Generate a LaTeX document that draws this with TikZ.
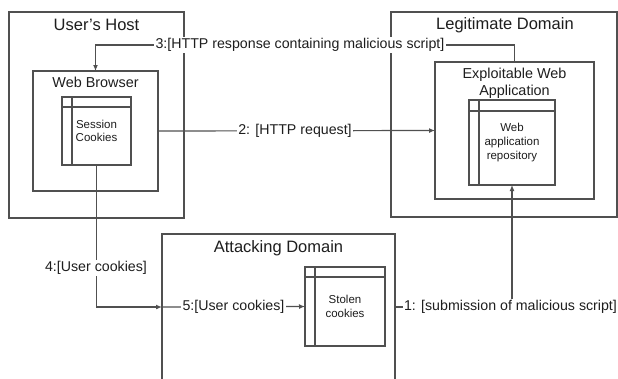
\documentclass[tikz,border=0pt]{standalone}
\usepackage{fontspec}
\setmainfont{Liberation Sans}
\usetikzlibrary{arrows.meta,calc}
\definecolor{lc}{RGB}{80,80,80}
\definecolor{tc}{RGB}{30,30,30}
\begin{document}
\begin{tikzpicture}[x=1pt,y=-1pt,
  line width=1.2pt,
  frame/.style={draw=lc, rectangle, inner sep=0pt, outer sep=0pt},
  bigtitle/.style={text=tc, font=\fontsize{16.5}{20}\selectfont, inner sep=0pt},
  midtitle/.style={text=tc, font=\fontsize{14.4}{17}\selectfont, inner sep=0pt, align=center},
  smalltext/.style={text=tc, font=\fontsize{11.5}{13.6}\selectfont, align=center},
  conn/.style={draw=lc, line width=1.2pt},
  arr/.style={conn, -{Latex[length=6pt,width=5pt]}},
  clabel/.style={text=tc, font=\fontsize{14.2}{17}\selectfont, fill=white, inner sep=1.5pt}]
\useasboundingbox (0,0) rectangle (618,378);
\clip (0,0) rectangle (618,378);
\fill[white] (0,0) rectangle (618,378);

% outer frames
\node[frame, minimum width=175, minimum height=206] (host) at (96.5,115) {};
\node[frame, minimum width=226, minimum height=205] (legit) at (504,114.5) {};
\node[frame, minimum width=233, minimum height=146] (att) at (278.5,307) {};

% middle frames
\node[frame, minimum width=125, minimum height=120] (browser) at (95.5,131) {};
\node[frame, minimum width=159, minimum height=137] (app) at (514.5,130.5) {};

% titles
\node[bigtitle, anchor=base] (hostT) at (96.5,30) {User's Host};
\node[bigtitle, anchor=base] (legitT) at (505,29) {Legitimate Domain};
\node[bigtitle, anchor=base] (attT) at (278.5,252) {Attacking Domain};
\node[midtitle, anchor=base] (browserT) at (95.5,87) {Web Browser};
\node[midtitle] (appT) at (514.5,83) {Exploitable Web\\Application};

% inner class-like boxes
\node[frame, smalltext, minimum width=69, minimum height=68] (sc) at (96.5,131) {Session\\Cookies};
\node[frame, smalltext, minimum width=86, minimum height=85] (repo) at (512,142.5) {Web\\application\\repository};
\node[frame, smalltext, minimum width=80, minimum height=79] (stolen) at (345,306.5) {Stolen\\cookies};

\foreach \b/\h in {sc/10, repo/11, stolen/10}{
  \draw[lc] ($(\b.north west)+(0,\h)$) -- ($(\b.north east)+(0,\h)$);
  \draw[lc] ($(\b.north west)+(10,0)$) -- ($(\b.south west)+(10,0)$);
}

% connectors
\coordinate (c3) at (300,45);
\draw[arr] (app.north) |- (c3) -| (browser.north);
\draw[arr] (browser.east) -- (app.west);
\draw[arr] (sc.south) |- (att.west);
\draw[arr] (att.west) -- (stolen.west);
\draw[arr] (att.east) -| (repo.south);

% connector labels
\node[clabel] (l3) at (c3) {3:[HTTP response containing malicious script]};
\node[clabel] (l2) at (295,130.5) {2: [HTTP request]};
\node[clabel] (l4) at (96,268) {4:[User cookies]};
\node[clabel] (l5) at (233.5,307) {5:[User cookies]};
\node[clabel] (l1) at (510.5,307) {1: [submission of malicious script]};
\end{tikzpicture}
\end{document}
